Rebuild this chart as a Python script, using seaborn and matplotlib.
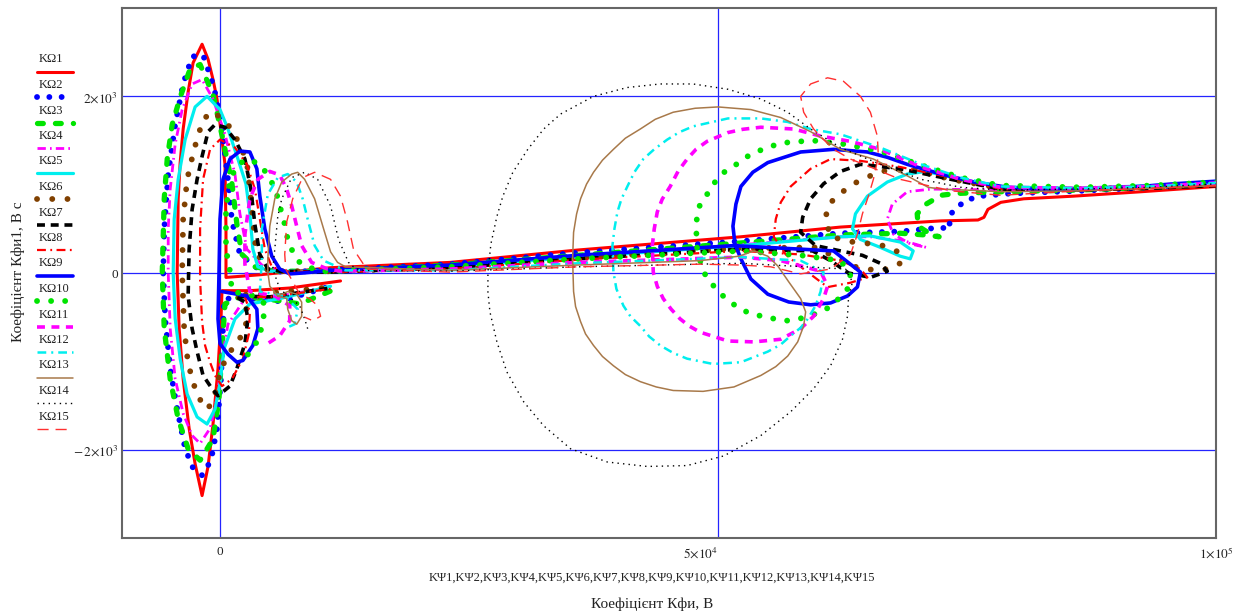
import numpy as np
import pandas as pd
import matplotlib
matplotlib.use("Agg")
import matplotlib.pyplot as plt
from matplotlib.lines import Line2D
import seaborn as sns

sns.set_theme(style="white")
plt.rcParams["font.family"] = ["Liberation Serif", "DejaVu Serif"]
plt.rcParams["mathtext.fontset"] = "stix"

# Traces KΨn (x, thousands of volts) vs KΩn (y, V·s), n = 1..15
k1 = [(100.1, 980), (92.5, 920), (85.7, 870), (80.7, 840), (78.4, 800), (77.1, 720), (76.7, 630), (76.1, 600),
      (72.4, 590), (66.6, 550), (62.3, 520), (52.3, 410), (35.9, 260), (23.1, 120), (11.1, 60), (4.0, -20),
      (0.6, -50), (0.6, 500), (0.5, 1230), (0.2, 1510), (-0.3, 1970), (-0.7, 2190), (-1.2, 2420), (-1.8, 2590),
      (-2.7, 2380), (-3.2, 2050), (-3.7, 1630), (-4.0, 1250), (-4.2, 840), (-4.3, 0), (-4.1, -630), (-3.7, -1200),
      (-3.1, -1760), (-2.5, -2160), (-1.8, -2520), (-1.2, -2190), (-0.7, -1710), (-0.2, -1080), (0.1, -520),
      (0.2, -200), (3.0, -200), (7.0, -170), (12.1, -90)]
k2 = [(100.1, 1020), (93.5, 970), (86.4, 930), (79.4, 900), (76.2, 870), (74.9, 820), (73.7, 720), (73.1, 610),
      (73.4, 510), (71.9, 510), (68.3, 470), (62.3, 450), (52.3, 360), (35.9, 230), (23.1, 100), (11.1, 30),
      (6.5, 10), (3.8, 50), (2.0, 210), (1.2, 590), (0.8, 1060), (0.2, 1630), (-0.6, 2100), (-1.7, 2470),
      (-2.8, 2450), (-3.7, 2140), (-4.5, 1680), (-5.2, 1120), (-5.6, 500), (-5.7, 0), (-5.5, -520), (-5.0, -1080),
      (-4.3, -1540), (-3.5, -1990), (-2.7, -2210), (-1.8, -2290), (-0.9, -2120), (-0.3, -1760), (0.1, -1200),
      (0.3, -630), (0.4, -290), (3.0, -290), (6.0, -320), (11.1, -150)]
k3 = [(100.1, 1010), (93.5, 970), (86.4, 940), (78.4, 920), (73.9, 900), (72.4, 880), (70.9, 780), (70.0, 670),
      (70.1, 530), (71.2, 450), (72.2, 410), (70.9, 430), (68.3, 450), (62.3, 430), (52.3, 340), (35.9, 200),
      (23.1, 90), (11.1, 20), (6.0, 20), (3.5, 70), (2.2, 210), (1.7, 550), (1.2, 1010), (0.3, 1510), (-0.7, 2020),
      (-2.0, 2360), (-3.0, 2310), (-4.0, 1990), (-4.8, 1680), (-5.3, 1290), (-5.6, 840), (-5.8, 0), (-5.6, -630),
      (-5.0, -1200), (-4.2, -1650), (-3.2, -1990), (-2.0, -2120), (-0.7, -1880), (-0.1, -1420), (0.2, -860),
      (0.5, -350), (2.0, -270), (4.5, -290), (8.0, -350), (11.6, -180)]
k4 = [(100.1, 1020), (93.5, 980), (86.4, 950), (78.4, 940), (71.4, 950), (69.0, 920), (67.5, 780), (67.0, 610),
      (67.6, 440), (69.3, 330), (70.9, 290), (68.8, 360), (65.3, 410), (62.3, 410), (52.3, 320), (35.9, 190),
      (23.1, 80), (11.1, 20), (6.5, 20), (4.2, 90), (2.7, 270), (2.0, 670), (1.5, 1120), (0.5, 1570), (-0.7, 1970),
      (-1.8, 2190), (-2.8, 2140), (-3.8, 1850), (-4.5, 1460), (-5.0, 950), (-5.2, 500), (-5.2, 0), (-5.0, -630),
      (-4.5, -1200), (-3.7, -1590), (-2.8, -1840), (-2.0, -1930), (-1.0, -1760), (-0.3, -1420), (0.2, -970),
      (0.8, -580), (2.5, -290), (5.5, -270), (11.1, -160)]
k5 = [(100.1, 1030), (93.5, 990), (86.4, 960), (78.4, 970), (74.4, 1060), (70.9, 1150), (69.0, 1120), (67.0, 1030),
      (65.0, 870), (63.8, 670), (63.5, 500), (64.3, 380), (66.3, 290), (68.3, 190), (69.3, 160), (69.6, 250),
      (68.3, 350), (65.3, 420), (62.3, 410), (52.3, 310), (35.9, 180), (23.1, 70), (11.1, 20), (5.0, 20), (3.8, 70),
      (3.3, 270), (3.0, 670), (2.6, 1010), (1.8, 1290), (0.8, 1630), (0.0, 1850), (-1.3, 2000), (-2.5, 1880),
      (-3.5, 1510), (-4.2, 1060), (-4.6, 610), (-4.7, 0), (-4.5, -520), (-4.0, -970), (-3.3, -1370), (-2.3, -1630),
      (-1.3, -1710), (-0.5, -1540), (0.0, -1250), (0.4, -860), (1.5, -520), (3.0, -350), (6.0, -290), (11.1, -150)]
k6 = [(100.1, 1010), (93.5, 970), (86.4, 950), (78.4, 960), (73.4, 1060), (69.3, 1180), (66.3, 1150), (64.9, 1080),
      (63.6, 1010), (61.8, 860), (61.0, 750), (60.8, 610), (61.3, 410), (63.6, 350), (66.3, 320), (68.3, 230),
      (68.3, 110), (66.3, 20), (63.8, 70), (61.8, 180), (59.8, 290), (52.3, 280), (35.9, 170), (23.1, 70),
      (11.1, 20), (6.0, 20), (4.5, 45), (3.6, 270), (3.3, 610), (3.0, 950), (2.7, 1250), (2.0, 1460), (0.8, 1680),
      (-0.7, 1830), (-1.7, 1740), (-2.6, 1400), (-3.3, 1060), (-3.7, 610), (-3.8, 0), (-3.6, -630), (-3.2, -1030),
      (-2.5, -1310), (-1.8, -1480), (-1.2, -1540), (-0.5, -1370), (0.1, -1080), (1.2, -860), (2.3, -690),
      (2.8, -500), (2.5, -320), (1.5, -250), (4.0, -240), (11.1, -160)]
k7 = [(100.1, 990), (93.5, 960), (86.4, 940), (78.4, 950), (73.4, 1060), (68.3, 1180), (64.3, 1230), (62.3, 1150),
      (60.6, 1010), (59.3, 840), (58.5, 630), (58.3, 460), (59.8, 310), (62.3, 250), (64.5, 200), (66.3, 110),
      (67.0, 20), (65.3, -50), (63.1, 0), (61.3, 140), (59.5, 250), (52.3, 270), (35.9, 160), (23.1, 60),
      (11.1, 10), (6.0, 20), (4.8, 45), (4.0, 210), (3.5, 550), (3.1, 950), (2.5, 1290), (1.5, 1510), (0.5, 1650),
      (-0.5, 1680), (-1.2, 1600), (-1.8, 1320), (-2.3, 1060), (-2.8, 720), (-3.1, 270), (-3.2, -260),
      (-2.8, -630), (-2.3, -890), (-1.7, -1160), (-0.8, -1310), (-0.2, -1390), (1.0, -1280), (1.7, -1080),
      (2.5, -800), (2.8, -520), (2.5, -330), (1.5, -260), (5.0, -270), (11.1, -170)]
k8 = [(100.1, 990), (93.5, 960), (86.4, 940), (78.4, 950), (73.4, 1080), (68.3, 1200), (64.3, 1270), (61.3, 1290),
      (59.3, 1180), (57.3, 980), (56.3, 800), (55.8, 610), (55.6, 410), (56.8, 210), (58.3, 70), (61.0, -160),
      (63.3, -110), (65.0, -50), (64.3, 45), (62.3, 140), (58.3, 210), (52.3, 250), (35.9, 150), (23.1, 45),
      (11.1, 10), (6.5, 20), (5.2, 70), (4.5, 270), (4.0, 610), (3.5, 950), (2.7, 1230), (1.5, 1420), (0.0, 1510),
      (-1.0, 1400), (-1.7, 1060), (-2.0, 500), (-2.0, -70), (-1.8, -550), (-1.5, -820), (-1.0, -1010),
      (-0.5, -1160), (0.2, -1280), (1.2, -1200), (2.3, -970), (2.9, -690), (3.0, -440), (2.5, -270), (5.0, -270),
      (11.1, -180)]
k9 = [(100.1, 1040), (95.8, 1010), (92.5, 980), (85.7, 950), (82.4, 950), (79.1, 970), (75.7, 1030), (72.4, 1120),
      (69.0, 1230), (67.0, 1310), (65.0, 1370), (61.6, 1400), (58.3, 1370), (55.0, 1250), (53.5, 1141),
      (52.3, 980), (51.8, 780), (51.5, 530), (51.7, 330), (52.3, 160), (53.3, -68), (55.0, -240), (57.1, -328),
      (59.3, -360), (61.3, -339), (63.0, -260), (64.0, -158), (64.3, 10), (61.6, 250), (51.6, 310), (35.9, 200),
      (23.1, 90), (11.1, 30), (8.3, 0), (7.0, -10), (6.0, 45), (5.2, 190), (4.5, 500), (4.0, 870), (3.7, 1180),
      (3.0, 1370), (2.0, 1380), (1.0, 1290), (0.3, 1060), (0.0, 610), (-0.1, 0), (-0.2, -520), (0.0, -800),
      (0.8, -920), (1.7, -1010), (2.3, -990), (3.3, -820), (3.8, -630), (3.7, -410), (2.7, -260), (0.2, -210)]
k10 = [(100.1, 1030), (93.5, 990), (86.4, 970), (78.4, 990), (74.4, 1080), (70.4, 1220), (66.3, 1380), (62.6, 1460),
       (59.5, 1500), (58.3, 1490), (57.1, 1480), (56.0, 1460), (55.0, 1420), (53.8, 1370), (52.8, 1310),
       (51.6, 1210), (50.6, 1140), (49.7, 1030), (48.9, 890), (48.2, 780), (47.9, 640), (47.8, 530), (47.9, 270),
       (48.5, 20), (49.2, -100), (50.3, -240), (51.5, -350), (52.6, -430), (53.6, -460), (54.6, -500),
       (55.8, -520), (57.0, -540), (58.1, -520), (59.1, -490), (60.3, -440), (61.3, -380), (62.3, -270),
       (63.0, -180), (63.3, -10), (62.3, 140), (58.3, 200), (52.3, 250), (35.9, 160), (23.1, 70), (11.1, 20),
       (10.1, 20), (8.8, 70), (8.0, 120), (7.3, 240), (6.8, 380), (6.5, 550), (6.1, 720), (5.7, 890), (5.0, 1080),
       (4.0, 1230), (2.8, 1290), (1.8, 1230), (1.0, 1060), (0.6, 720), (0.6, 270), (1.0, 20), (1.2, -210),
       (3.5, -260), (4.5, -350), (4.3, -580), (3.7, -780), (2.5, -970)]
k11 = [(100.1, 1020), (93.5, 980), (86.4, 960), (78.4, 970), (74.4, 1060), (70.4, 1200), (66.3, 1400), (63.3, 1490),
       (60.3, 1550), (57.6, 1630), (54.3, 1650), (52.5, 1627), (51.0, 1590), (48.9, 1490), (47.8, 1401),
       (46.9, 1290), (46.0, 1153), (45.2, 980), (44.4, 836), (43.9, 690), (43.6, 500), (43.4, 310), (43.5, 10),
       (43.9, -150), (44.5, -290), (45.3, -410), (46.2, -520), (47.1, -600), (48.2, -670), (51.0, -770),
       (53.6, -780), (56.3, -750), (58.3, -630), (59.6, -490), (60.6, -290), (61.0, -150), (60.3, 20), (56.3, 140),
       (52.3, 180), (35.9, 120), (23.1, 45), (12.1, 20), (10.8, 45), (9.2, 120), (8.2, 310), (7.7, 530),
       (7.2, 760), (6.7, 950), (6.0, 1110), (5.0, 1150), (3.8, 1060), (3.0, 840), (2.5, 440), (2.5, 100),
       (3.0, -210), (5.5, -260), (7.0, -370), (7.0, -540), (6.0, -710), (4.5, -820)]
k12 = [(100.1, 1020), (93.5, 980), (86.4, 960), (78.4, 980), (74.4, 1080), (70.4, 1230), (66.3, 1420), (62.3, 1570),
       (59.3, 1630), (57.0, 1710), (54.3, 1750), (51.0, 1750), (47.5, 1660), (46.1, 1593), (44.9, 1510),
       (43.6, 1401), (42.5, 1290), (41.6, 1141), (40.9, 980), (40.3, 836), (39.9, 690), (39.6, 500), (39.4, 310),
       (39.5, 10), (39.8, -180), (40.5, -370), (41.2, -490), (42.2, -600), (43.1, -720), (44.2, -820),
       (45.5, -905), (46.9, -970), (49.5, -1030), (52.3, -1010), (55.0, -890), (56.3, -810), (57.3, -710),
       (58.3, -620), (59.0, -520), (59.8, -370), (60.3, -210), (60.6, 10), (58.3, 140), (52.3, 180), (35.9, 110),
       (23.1, 30), (12.6, 30), (11.8, 70), (10.4, 140), (9.5, 310), (8.8, 610), (8.3, 840), (7.7, 1030),
       (6.8, 1120), (5.8, 1080), (4.8, 890), (4.2, 500), (4.2, 140), (4.0, -210), (6.5, -260), (7.8, -410),
       (7.5, -580), (6.5, -630)]
k13 = [(100.1, 990), (93.5, 960), (86.4, 930), (78.4, 920), (75.7, 935), (72.4, 950), (71.1, 970), (69.0, 1100),
       (65.6, 1290), (62.3, 1400), (59.3, 1600), (56.3, 1760), (53.3, 1850), (50.0, 1880), (47.7, 1865),
       (45.5, 1820), (43.7, 1740), (42.2, 1630), (40.7, 1526), (39.5, 1400), (38.4, 1277), (37.5, 1140),
       (36.8, 1006), (36.2, 840), (35.8, 667), (35.5, 460), (35.4, 160), (35.5, -210), (35.7, -380), (36.2, -550),
       (36.7, -690), (37.5, -820), (38.4, -945), (39.5, -1050), (40.7, -1150), (42.2, -1230), (43.8, -1290),
       (45.5, -1330), (48.5, -1340), (51.6, -1290), (54.3, -1160), (55.8, -1060), (57.0, -940), (58.0, -780),
       (58.6, -600), (58.8, -440), (58.3, -290), (57.1, -100), (56.0, 80), (55.0, 190), (53.6, 250), (52.1, 190),
       (48.2, 140), (35.9, 90), (23.1, 30), (12.6, 70), (11.8, 120), (11.1, 240), (10.4, 500), (9.5, 840),
       (8.5, 1060), (7.8, 1140), (7.2, 1120), (6.2, 1030), (5.5, 840), (5.0, 530), (4.8, 160), (4.8, 10),
       (5.0, -150), (5.8, -260), (6.7, -290), (6.8, -410), (7.2, -540), (7.7, -580), (8.2, -490), (8.2, -330),
       (7.7, -240), (6.8, -210), (5.8, -260)]
k14 = [(100.1, 1010), (93.5, 970), (86.4, 950), (78.4, 940), (74.4, 970), (70.4, 1060), (66.3, 1230), (62.3, 1420),
       (59.3, 1630), (57.0, 1820), (54.3, 1970), (51.0, 2080), (47.5, 2140), (44.2, 2140), (40.9, 2100),
       (37.5, 2000), (34.2, 1800), (32.5, 1630), (30.9, 1400), (29.4, 1140), (28.4, 870), (27.8, 640),
       (27.2, 330), (26.9, 10), (26.9, -215), (27.1, -440), (27.8, -780), (28.8, -1120), (30.5, -1460),
       (32.5, -1730), (35.2, -1990), (38.9, -2140), (42.9, -2190), (46.9, -2180), (50.6, -2070), (54.3, -1840),
       (57.3, -1570), (59.6, -1310), (61.3, -1050), (62.5, -750), (63.0, -490), (63.1, -290), (63.5, -100),
       (62.8, 45), (52.3, 110), (35.9, 70), (23.1, 20), (14.1, 30), (13.4, 70), (12.9, 120), (11.9, 380),
       (11.1, 760), (9.8, 1060), (8.5, 1140), (7.2, 1080), (6.2, 840), (5.8, 640), (5.5, 270), (5.3, 45),
       (6.0, -180), (8.0, -370), (8.5, -520), (8.8, -630)]
k15 = [(100.1, 990), (93.5, 960), (86.4, 930), (78.4, 880), (73.4, 930), (68.3, 1060), (65.3, 1200), (63.3, 1290),
       (61.6, 1400), (60.6, 1510), (59.6, 1630), (58.6, 1820), (58.3, 2000), (59.3, 2140), (61.0, 2210),
       (62.6, 2170), (64.3, 2000), (65.3, 1820), (66.0, 1550), (66.1, 1320), (65.6, 1060), (65.1, 870),
       (64.5, 670), (64.0, 440), (63.3, 210), (61.3, 45), (58.3, -10), (55.3, 70), (52.3, 90), (48.2, 100),
       (35.9, 70), (23.1, 10), (14.6, 45), (14.4, 100), (13.4, 270), (12.8, 580), (12.1, 870), (11.1, 1060),
       (9.5, 1140), (8.3, 1080), (7.3, 840), (6.7, 580), (6.5, 210), (6.6, 45), (8.0, -240), (9.0, -290),
       (9.8, -370), (10.1, -490), (9.3, -540), (8.5, -500)]

traces = [k1, k2, k3, k4, k5, k6, k7, k8, k9, k10, k11, k12, k13, k14, k15]
trace_names = [f"KΩ{i}" for i in range(1, 16)]
x_axis_caption = ",".join(f"KΨ{i}" for i in range(1, 16))

x_ticks = [0, 5e4, 1e5]
x_tick_labels = ["0", r"$5{\times}10^{4}$", r"$1{\times}10^{5}$"]
y_ticks = [-2000, 0, 2000]
y_tick_labels = [r"$-\,2{\times}10^{3}$", "0", r"$2{\times}10^{3}$"]

RED, BLUE, GREEN, MAGENTA, CYAN = "#ff0000", "#0000ff", "#00e400", "#ff00ff", "#00eeee"
BROWN, TAN = "#804000", "#a8794a"
styles = [
    dict(color=RED, linewidth=2.2, linestyle="-", solid_joinstyle="round"),
    dict(color=BLUE, linewidth=4.2, linestyle=(0, (0.01, 2.1)), dash_capstyle="round"),
    dict(color=GREEN, linewidth=3.8, linestyle=(0, (1.1, 2.3)), dash_capstyle="round"),
    dict(color=MAGENTA, linewidth=2.0, linestyle=(0, (3, 1.5, 0.6, 1.5))),
    dict(color=CYAN, linewidth=2.3, linestyle="-", solid_joinstyle="round"),
    dict(color=BROWN, linewidth=4.2, linestyle=(0, (0.01, 2.6)), dash_capstyle="round"),
    dict(color="black", linewidth=2.6, linestyle=(0, (2.2, 1.6))),
    dict(color=RED, linewidth=1.6, linestyle=(0, (4, 2, 0.8, 2))),
    dict(color=BLUE, linewidth=2.6, linestyle="-", solid_joinstyle="round"),
    dict(color=GREEN, linewidth=4.2, linestyle=(0, (0.01, 2.4)), dash_capstyle="round"),
    dict(color=MAGENTA, linewidth=2.6, linestyle=(0, (2.2, 1.8))),
    dict(color=CYAN, linewidth=1.8, linestyle=(0, (3.5, 2, 0.8, 2))),
    dict(color=TAN, linewidth=1.1, linestyle="-", solid_joinstyle="round"),
    dict(color="black", linewidth=1.0, linestyle=(0, (1, 3))),
    dict(color="#ff3030", linewidth=1.0, linestyle=(0, (8, 5))),
]

W, H = 1241, 616
fig = plt.figure(figsize=(W / 100, H / 100), dpi=100)
ax = fig.add_axes([122 / W, 78 / H, 1094 / W, 530 / H])

for pts, st in zip(traces, styles):
    df = pd.DataFrame(pts, columns=["x_kv", "y"])
    df["x"] = df["x_kv"] * 1e3
    sns.lineplot(data=df, x="x", y="y", sort=False, estimator=None, ax=ax,
                 legend=False, zorder=3, **st)

for xv in (0, 5e4):
    ax.axvline(xv, color="#2424ff", linewidth=0.9, zorder=1)
for yv in (-2000, 0, 2000):
    ax.axhline(yv, color="#2424ff", linewidth=0.9, zorder=1)

ax.set_xlim(-9840, 1e5)
ax.set_ylim(-3000, 3000)
ax.set_xticks(x_ticks)
ax.set_xticklabels(x_tick_labels)
ax.set_yticks(y_ticks)
ax.set_yticklabels(y_tick_labels)
ax.tick_params(length=0, labelsize=9.5, colors="#222222")
ax.tick_params(axis="x", pad=6)
ax.tick_params(axis="y", pad=3)
xl = ax.get_xticklabels()
xl[1].set_horizontalalignment("right")
ax.set_xlabel("")
ax.set_ylabel("")
for sp in ax.spines.values():
    sp.set_color("#666666")
    sp.set_linewidth(1.5)

# legend column on the left: name above a short sample of each trace
for i, (name, st) in enumerate(zip(trace_names, styles)):
    ty = 59.5 + 25.5 * i
    fig.text(39 / W, 1 - ty / H, name, ha="left", va="center", fontsize=9, color="#222222")
    fig.add_artist(Line2D([37 / W, 73 / W], [1 - (ty + 12) / H] * 2, transform=fig.transFigure, **st))

fig.text(652 / W, 1 - 578 / H, x_axis_caption, ha="center", va="center", fontsize=9, color="#222222")
fig.text(652 / W, 1 - 604 / H, "Коефіцієнт Кфи, В", ha="center", va="center", fontsize=11, color="#222222")
fig.text(18 / W, 1 - 272 / H, "Коефіцієнт Кфи1, В с", ha="center", va="center", rotation=90,
         fontsize=11, color="#222222")

fig.savefig("out.png", dpi=100, facecolor="white")
